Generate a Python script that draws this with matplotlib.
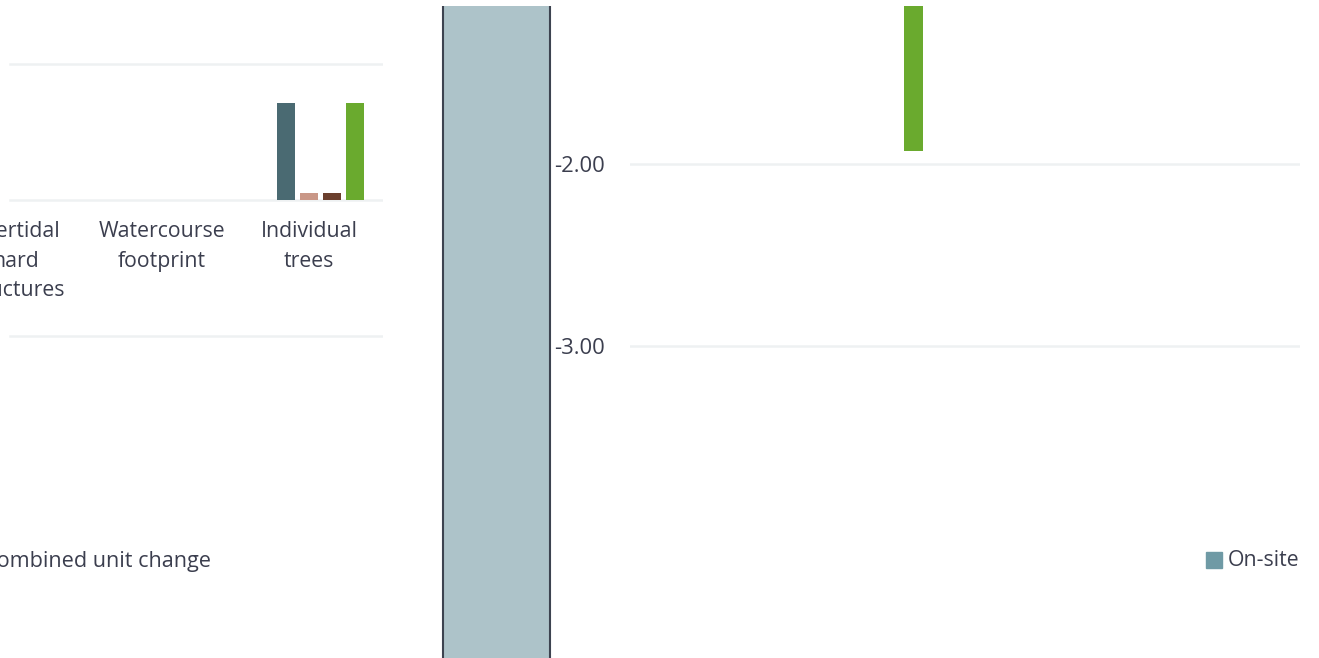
import matplotlib.pyplot as plt
from matplotlib.patches import Rectangle

plt.rcParams['font.family'] = ['Open Sans', 'DejaVu Sans']

W, H = 1319, 658
TEXT = '#3b3e4e'
GRID = '#eef1f2'

# habitat categories and unit change per series
categories = ['Intertidal\nhard\nstructures', 'Watercourse\nfootprint', 'Individual\ntrees']
series_colors = ['#6f9aa5', '#4a6a72', '#c99787', '#6b3f2e', '#6aaa2e']
series_values = [
    [0.0, 0.0, 0.0],
    [0.0, 0.0, 0.71],
    [0.0, 0.0, 0.05],
    [0.0, 0.0, 0.05],
    [0.0, 0.0, 0.71],
]
left_grid = [1.0, 0.0, -1.0]

# combined unit change panel
combined_value = -6.0
onsite_value = -1.93
right_ticks = [-2.0, -3.0]
legend_label = 'On-site'


def box(x0, y0, x1, y1):
    return [x0 / W, 1 - y1 / H, (x1 - x0) / W, (y1 - y0) / H]


fig = plt.figure(figsize=(W / 100, H / 100), dpi=100)

# ---- left grouped bars
ax = fig.add_axes(box(-58.5, 0, 382.5, 472))
bw = 0.122
step = 0.155
n = len(series_values)
for k, (vals, col) in enumerate(zip(series_values, series_colors)):
    xs = [i + (k - (n - 1) / 2) * step for i in range(len(categories))]
    ax.bar(xs, vals, width=bw, color=col, zorder=2)
ax.set_xlim(-0.5, len(categories) - 0.5)
ax.set_ylim(-2.0, 1.47)
for g in left_grid:
    ax.axhline(g, xmin=68.5 / 441, xmax=1, color=GRID, lw=1.8, zorder=1)
for i, lab in enumerate(categories):
    ax.annotate(lab, xy=(i, 0), xytext=(0, -15), textcoords='offset points',
                ha='center', va='top', fontsize=15.3, color=TEXT, linespacing=1.55)
ax.axis('off')

fig.text(211 / W, 1 - 561 / H, 'Combined unit change', ha='right', va='center',
         fontsize=15.6, color=TEXT)

# ---- middle tall bar
y_top = -2 + 158 / 182
y_bot = -3 - 312 / 182
axm = fig.add_axes(box(420, 6, 573, 658))
axm.bar(0, combined_value, width=107 / 153, color='#adc3c9',
        edgecolor='#3d4350', linewidth=1.5)
axm.set_xlim(-0.5, 0.5)
axm.set_ylim(y_bot, y_top)
axm.axis('off')

# ---- right panel
axr = fig.add_axes(box(630, 6, 1300, 658))
axr.bar(0, onsite_value, width=0.12, color='#6aaa2e', zorder=2)
axr.set_xlim(-1.79, 2.44)
axr.set_ylim(y_bot, y_top)
axr.set_yticks(right_ticks)
axr.set_yticklabels([f'{v:.2f}' for v in right_ticks])
axr.tick_params(axis='y', length=0, pad=18, labelsize=15.8, labelcolor=TEXT)
axr.tick_params(axis='x', bottom=False, labelbottom=False)
axr.grid(axis='y', color=GRID, lw=1.8, zorder=1)
for s in axr.spines.values():
    s.set_visible(False)

axr.add_patch(Rectangle(((1206 - 630) / 670, (658 - 568) / 652), 16 / 670, 16 / 652,
                        transform=axr.transAxes, color='#6f9aa5', clip_on=True))
axr.text((1228 - 630) / 670, (658 - 560) / 652, legend_label, transform=axr.transAxes,
         ha='left', va='center', fontsize=15.3, color=TEXT, clip_on=True)

fig.savefig('out.png', dpi=100)
